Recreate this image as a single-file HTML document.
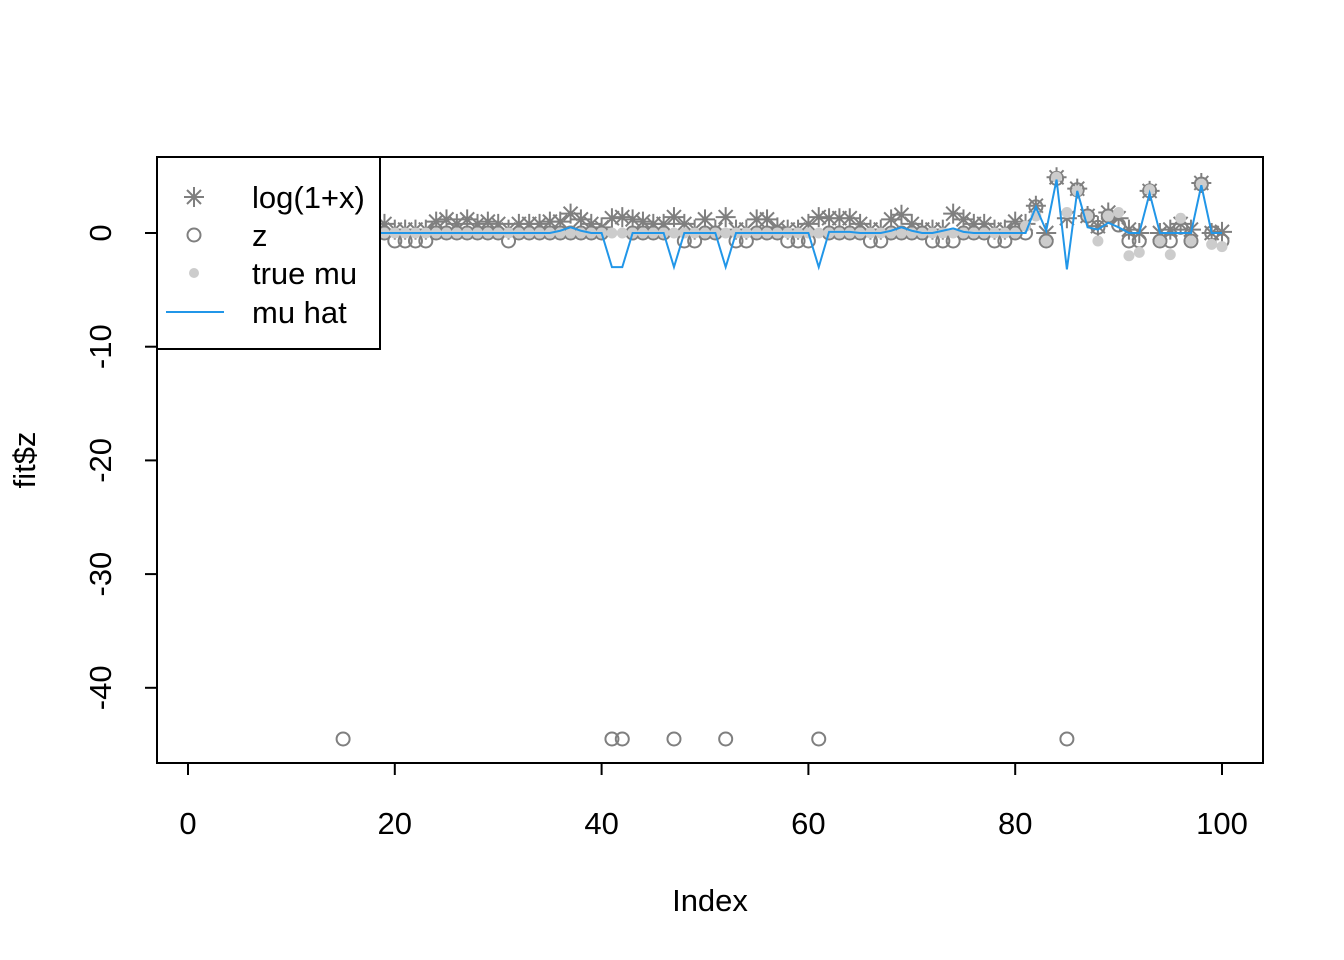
<!DOCTYPE html>
<html><head><meta charset="utf-8"><style>
html,body{margin:0;padding:0;background:#fff;}
svg{display:block;font-family:"Liberation Sans",Arial,sans-serif;}
</style></head><body>
<svg id="chart" width="1344" height="960" viewBox="0 0 1344 960" xmlns="http://www.w3.org/2000/svg"></svg>
<script>
const logVals = [0.3,0.3,0.3,0.3,0.3,0.3,0.3,0.3,0.3,0.3,0.3,0.3,0.3,0.3,0.3,0.3,0.3,0.3,0.8,0.3,
0.3,0.3,0.3,1.0,1.2,0.8,1.2,0.8,1.0,0.8,0.3,0.8,0.8,0.8,1.0,1.0,1.7,1.2,0.8,0.5,
1.3,1.4,1.2,1.0,0.8,0.8,1.4,0.8,0.3,1.2,0.3,1.4,0.3,0.3,1.2,1.2,0.5,0.3,0.3,0.8,
1.4,1.3,1.3,1.3,0.8,0.3,0.3,1.2,1.6,0.8,0.3,0.3,0.3,1.7,1.2,0.8,0.8,0.3,0.3,1.0,
0.8,2.4,0,4.9,1.3,3.9,1.5,0.6,1.8,1.3,0.3,0,3.7,0,0.3,0.8,0.3,4.4,0,0.1];
const zVals = [0,0,0,0,0,0,0,0,0,0,0,0,0,0,-44.5,0,0,0,0,-0.7,
-0.7,-0.7,-0.7,0,0,0,0,0,0,0,-0.7,0,0,0,0,0,0,0,0,0,
-44.5,-44.5,0,0,0,0,-44.5,-0.7,-0.7,0,0,-44.5,-0.7,-0.7,0,0,0,-0.7,-0.7,-0.7,
-44.5,0,0,0,0,-0.7,-0.7,0,0,0,0,-0.7,-0.7,-0.7,0,0,0,-0.7,-0.7,0,
0,2.3,-0.7,4.8,-44.5,3.8,1.5,0.5,1.5,0.7,-0.7,-0.7,3.7,-0.7,-0.7,0.5,-0.7,4.3,0,-0.7];
const trueMu = [0,0,0,0,0,0,0,0,0,0,0,0,0,0,0,0,0,0,0,0,
0,0,0,0,0,0,0,0,0,0,0,0,0,0,0,0,0,0,0,0,
0,0,0,0,0,0,0,0,0,0,0,0,0,0,0,0,0,0,0,0,
0,0,0,0,0,0,0,0,0,0,0,0,0,0,0,0,0,0,0,0,
0.6,1.5,-0.7,4.9,1.8,3.7,1.5,-0.7,1.5,1.8,-2.0,-1.7,3.8,-0.7,-1.9,1.3,-0.7,4.3,-1.0,-1.2];
const muHat = [0,0,0,0,0,0,0,0,0,0,0,0,0,0,0,0,0,0,0,0,
0,0,0,0,0,0,0,0,0,0,0,0,0,0,0,0.2,0.5,0.2,0,0,
-3,-3,0,0,0,0,-3,0,0,0,0,-3,0,0,0,0,0,0,0,0,
-3,0.1,0.1,0.1,0,0,0,0.2,0.5,0.2,0,0,0.2,0.4,0.1,0,0,0,0,0,
0,2.3,0.2,4.7,-3.2,3.7,0.5,0.3,0.9,0.5,0,0,3.5,0,0,0,0,4.2,0,0];
const xTicks = [0,20,40,60,80,100];
const yTicks = [0,-10,-20,-30,-40];

const NS="http://www.w3.org/2000/svg";
const svg=document.getElementById('chart');
const X=v=>188+v*10.34;
const Y=v=>233-v*11.37;
const FS=31;
function el(t,a,p){const e=document.createElementNS(NS,t);for(const k in a)e.setAttribute(k,a[k]);(p||svg).appendChild(e);return e;}
const plot=el('g',{});


logVals.forEach((v,i)=>{const x=X(i+1),y=Y(v),r=10,d=7;
 const g=el('g',{stroke:'#7f7f7f','stroke-width':2,fill:'none'},plot);
 
 
 el('path',{d:`M${x-r} ${y}H${x+r}M${x} ${y-r}V${y+r}M${x-d} ${y-d}L${x+d} ${y+d}M${x-d} ${y+d}L${x+d} ${y-d}`},g);});
zVals.forEach((v,i)=>{const c=el('circle',{cx:X(i+1),cy:Y(v),r:6.5,fill:'none',stroke:'#7f7f7f','stroke-width':2},plot);
 
 });
trueMu.forEach((v,i)=>{const c=el('circle',{cx:X(i+1),cy:Y(v),r:5.5,fill:'#cccccc'},plot);
 
 });
const ln=el('polyline',{points:muHat.map((v,i)=>X(i+1)+','+Y(v)).join(' '),fill:'none',stroke:'#2196e8','stroke-width':2},plot);


const box=el('rect',{x:157,y:157,width:1106,height:606,fill:'none',stroke:'#000','stroke-width':2});


const xa=el('g',{});


el('line',{x1:X(0),x2:X(100),y1:763,y2:763,stroke:'#000','stroke-width':2},xa);
xTicks.forEach(t=>{el('line',{x1:X(t),x2:X(t),y1:763,y2:775,stroke:'#000','stroke-width':2},xa);
 const tx=el('text',{x:X(t),y:834,'text-anchor':'middle','font-size':FS},xa);tx.textContent=t;
 
 });
const ya=el('g',{});


el('line',{x1:157,x2:157,y1:Y(0),y2:Y(-40),stroke:'#000','stroke-width':2},ya);
yTicks.forEach(t=>{el('line',{x1:145,x2:157,y1:Y(t),y2:Y(t),stroke:'#000','stroke-width':2},ya);
 const tx=el('text',{x:0,y:0,'text-anchor':'middle','font-size':FS,transform:`translate(111 ${Y(t)}) rotate(-90)`},ya);tx.textContent=t;
 
 });
const xt=el('text',{x:710,y:911,'text-anchor':'middle','font-size':FS});xt.textContent='Index';


const yt=el('text',{x:0,y:0,'text-anchor':'middle','font-size':FS,transform:'translate(35 460) rotate(-90)'});yt.textContent='fit$z';


const lg=el('g',{});


el('rect',{x:157,y:157,width:223,height:192,fill:'#fff',stroke:'#000','stroke-width':2},lg);
const rows=[197,235,273,312],labels=['log(1+x)','z','true mu','mu hat'];
{const x=194,y=rows[0],r=10,d=7;el('path',{d:`M${x-r} ${y}H${x+r}M${x} ${y-r}V${y+r}M${x-d} ${y-d}L${x+d} ${y+d}M${x-d} ${y+d}L${x+d} ${y-d}`,stroke:'#7f7f7f','stroke-width':2,fill:'none'},lg);}
el('circle',{cx:194,cy:rows[1],r:6.5,fill:'none',stroke:'#7f7f7f','stroke-width':2},lg);
el('circle',{cx:194,cy:rows[2],r:5,fill:'#cccccc'},lg);
el('line',{x1:166,x2:224,y1:rows[3],y2:rows[3],stroke:'#2196e8','stroke-width':2},lg);
labels.forEach((s,i)=>{const t=el('text',{x:252,y:rows[i]+11,'font-size':FS},lg);t.textContent=s;
 
 });
</script>
</body></html>
